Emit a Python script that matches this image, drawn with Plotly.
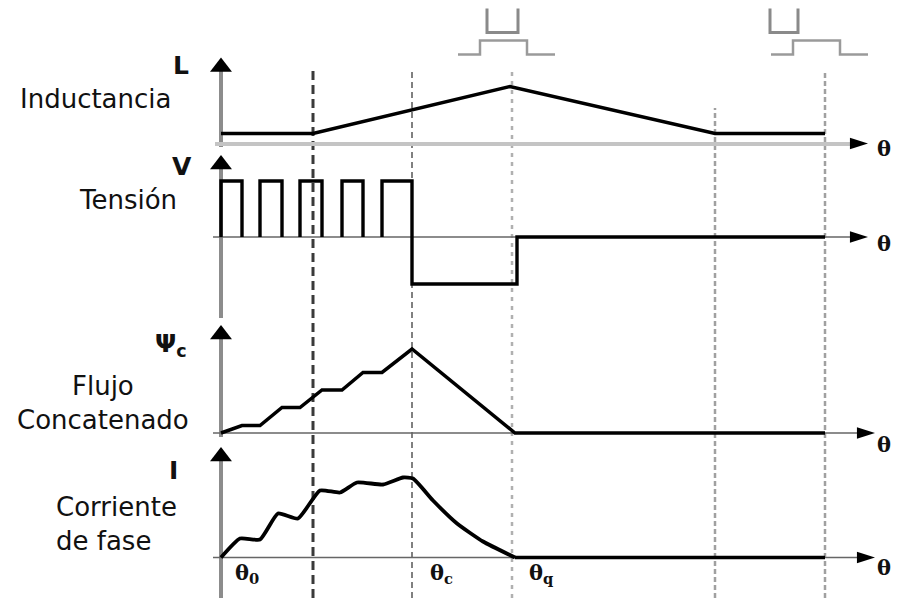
import plotly.graph_objects as go

W, H = 897, 598
SC = 10.0  # px per signal unit (layout scale)

# ---------------- data (angle units, theta_0 = 0) ----------------
theta_marks = [92, 191, 291, 494, 604]
# Inductance profile
L_theta = [0, 92, 289, 494, 604]
L_vals = [1.0, 1.0, 5.7, 1.0, 1.0]
# Voltage (PWM then negative)
pulse_on = [0, 39, 79, 121, 161]
pulse_off = [21, 61, 101, 142, 191]
V_pos = 5.6
V_neg = -4.7
theta_q_sig = 296
theta_end = 604
# Flux linkage
psi_theta = [0, 21, 39, 61, 79, 101, 121, 142, 161, 191, 294, 604]
psi_vals = [0, 0.75, 0.75, 2.55, 2.55, 4.3, 4.3, 6.05, 6.05, 8.4, 0, 0]
# Phase current (conduction part, then zero tail)
i_theta = [0, 19, 39, 57, 77, 99, 119, 136, 162, 182, 192, 212, 236, 262, 294]
i_vals = [0, 1.9, 1.8, 4.4, 3.9, 6.7, 6.5, 7.5, 7.3, 8.0, 7.9, 5.7, 3.4, 1.6, 0]
i_tail_theta = [294, 604]
i_tail_vals = [0, 0]
# Pole-position icons (stator step and rotor "U"), relative to the mark they sit above
icon_centers = [291, 604]
stator_dx = [-54, -32, -32, 15, 15, 43]
stator_dy = [8.9, 8.9, 10.3, 10.3, 8.9, 8.9]
rotor_dx = [[-25, -25, 6, 6], [-55, -55, -27, -27]]
rotor_dy = [13.5, 11.1, 11.1, 13.5]

# Labels
panel_symbols = ["L", "V", "Ψ<sub>c</sub>", "I"]
panel_names = ["Inductancia", "Tensión", "Flujo<br>Concatenado", "Corriente<br>de fase"]
theta_labels = ["θ<sub>0</sub>", "θ<sub>c</sub>", "θ<sub>q</sub>"]

# ---------------- helpers ----------------
def px(x):
    return x / W

def py(y):
    return 1 - y / H

def yr(base):
    return [-(H - base) / SC, base / SC]

baselines = [143.5, 237, 433, 557.5]
axes = ["y", "y2", "y3", "y4"]

fig = go.Figure()

# Inductance
fig.add_trace(go.Scatter(x=L_theta, y=L_vals, mode="lines", yaxis="y",
                         line=dict(color="black", width=3.5), hoverinfo="skip"))

# Voltage
vx, vy = [], []
for k, (on, off) in enumerate(zip(pulse_on, pulse_off)):
    if k < len(pulse_on) - 1:
        vx += [on, on, off, off, None]
        vy += [0, V_pos, V_pos, 0, None]
    else:
        vx += [on, on, off, off, theta_q_sig, theta_q_sig, theta_end]
        vy += [0, V_pos, V_pos, V_neg, V_neg, 0, 0]
fig.add_trace(go.Scatter(x=vx, y=vy, mode="lines", yaxis="y2",
                         line=dict(color="black", width=3.4), hoverinfo="skip"))

# Flux
fig.add_trace(go.Scatter(x=psi_theta, y=psi_vals, mode="lines", yaxis="y3",
                         line=dict(color="black", width=3.5), hoverinfo="skip"))

# Current
fig.add_trace(go.Scatter(x=i_theta, y=i_vals, mode="lines", yaxis="y4",
                         line=dict(color="black", width=3.8, shape="spline", smoothing=0.5),
                         hoverinfo="skip"))
fig.add_trace(go.Scatter(x=i_tail_theta, y=i_tail_vals, mode="lines", yaxis="y4",
                         line=dict(color="black", width=3.5), hoverinfo="skip"))

# Pole icons
for c, rdx in zip(icon_centers, rotor_dx):
    fig.add_trace(go.Scatter(x=[c + d for d in stator_dx], y=stator_dy, mode="lines", yaxis="y",
                             line=dict(color="#9a9a9a", width=2.5), hoverinfo="skip"))
    fig.add_trace(go.Scatter(x=[c + d for d in rdx], y=rotor_dy, mode="lines", yaxis="y",
                             line=dict(color="#8a8a8a", width=3), hoverinfo="skip"))

# Horizontal axes (shapes)
shapes = []
shapes.append(dict(type="line", xref="x", yref="y", x0=-6, x1=635, y0=-0.05, y1=-0.05,
                   line=dict(color="#c4c4c4", width=4), layer="below"))
for ax in axes[1:]:
    shapes.append(dict(type="line", xref="x", yref=ax, x0=-8, x1=640, y0=0, y1=0,
                       line=dict(color="#666666", width=1.5), layer="below"))

# Vertical axis segments
for top, bot in [(66, 147), (160, 318), (330, 437), (450, 598)]:
    shapes.append(dict(type="line", xref="x", yref="paper", x0=0, x1=0, y0=py(bot), y1=py(top),
                       line=dict(color="#8c8c8c", width=4), layer="below"))

# Dashed vertical markers
mark_styles = [
    dict(color="#3a3a3a", width=3, dash="9px,5px", top=70),
    dict(color="#808080", width=2, dash="6px,4px", top=72),
    dict(color="#b0b0b0", width=2.5, dash="4px,5px", top=72),
    dict(color="#a0a0a0", width=2.5, dash="5px,3px", top=108),
    dict(color="#a0a0a0", width=2.5, dash="5px,3px", top=73),
]
for t, st in zip(theta_marks, mark_styles):
    shapes.append(dict(type="line", xref="x", yref="paper", x0=t, x1=t,
                       y0=0, y1=py(st["top"]),
                       line=dict(color=st["color"], width=st["width"], dash=st["dash"]),
                       layer="below"))

# Arrowheads
up_y = [7.65, 7.25, 9.85, 10.1]
right_x = [647, 647, 654, 654]
for ax, uy, rx in zip(axes, up_y, right_x):
    fig.add_trace(go.Scatter(x=[0], y=[uy], yaxis=ax, mode="markers",
                             marker=dict(symbol="triangle-up", size=19, color="black"),
                             hoverinfo="skip"))
    fig.add_trace(go.Scatter(x=[rx], y=[0], yaxis=ax, mode="markers",
                             marker=dict(symbol="arrow", angle=90, size=19, color="black"),
                             hoverinfo="skip"))

# Annotations
ann = []
font_lbl = dict(family="DejaVu Sans", size=26, color="#111111")
font_sym = dict(family="DejaVu Sans", size=25, color="#111111")
sym_pos = [(181, 65), (182, 167), (171, 345), (173, 470)]
for s, (x, y) in zip(panel_symbols, sym_pos):
    ann.append(dict(text=f"<b>{s}</b>", x=px(x), y=py(y), xref="paper", yref="paper",
                    showarrow=False, xanchor="center", yanchor="middle", font=font_sym))
name_pos = [(95, 99, "center"), (128, 200, "center"), (103, 403, "center"), (54, 524, "left")]
for n, (x, y, a) in zip(panel_names, name_pos):
    ann.append(dict(text=n, x=px(x), y=py(y), xref="paper", yref="paper", align=a,
                    showarrow=False, xanchor=a, yanchor="middle", font=font_lbl))
tl_pos = [(247, 573), (441, 573), (541, 573)]
for t, (x, y) in zip(theta_labels, tl_pos):
    ann.append(dict(text=f"<b>{t}</b>", x=px(x), y=py(y), xref="paper", yref="paper",
                    showarrow=False, xanchor="center", yanchor="middle",
                    font=dict(family="DejaVu Serif", size=21, color="#111111")))
for y in [149, 244, 445, 567]:
    ann.append(dict(text="<b>θ</b>", x=px(884), y=py(y), xref="paper", yref="paper",
                    showarrow=False, xanchor="center", yanchor="middle",
                    font=dict(family="DejaVu Serif", size=21, color="#111111")))

layout_axes = {}
for i, (ax, b) in enumerate(zip(axes, baselines)):
    key = "yaxis" if i == 0 else f"yaxis{i+1}"
    d = dict(range=yr(b), visible=False, fixedrange=True, domain=[0, 1])
    if i > 0:
        d["overlaying"] = "y"
    layout_axes[key] = d

fig.update_layout(
    width=W, height=H,
    margin=dict(l=0, r=0, t=0, b=0, pad=0),
    paper_bgcolor="white", plot_bgcolor="white",
    showlegend=False,
    xaxis=dict(range=[-221, 676], visible=False, fixedrange=True),
    shapes=shapes, annotations=ann,
    **layout_axes,
)

fig.write_html("out.html",
               config={"displayModeBar": False, "staticPlot": True},
               post_script="document.body.style.margin='0';document.body.style.overflow='hidden';")
